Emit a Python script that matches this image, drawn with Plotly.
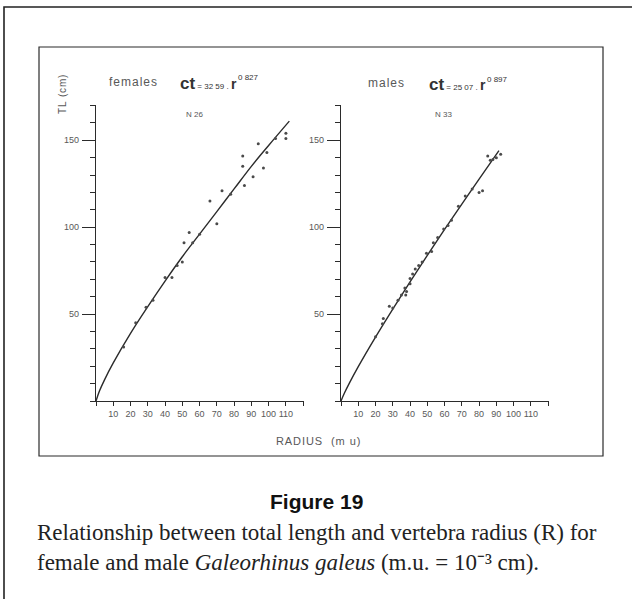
import plotly.graph_objects as go

# Vertebra radius (m.u.) and total length (cm), females
female_radius = [110, 110, 94, 99, 85, 85, 97, 91, 86, 73, 66, 70, 54, 51, 50, 44, 40,
                 29, 23, 33, 47, 60, 78, 104, 56, 16]
female_tl = [154, 151, 148, 143, 141, 135, 134, 129, 124, 121, 115, 102, 97, 91, 80, 71, 71,
             54, 45, 58, 78, 96, 119, 151, 91, 31]

# Vertebra radius (m.u.) and total length (cm), males
male_radius = [92.5, 90, 85, 86.5, 80, 82, 72, 68, 64, 59.5, 53.5, 49.5, 52.5, 43, 41.5, 40,
               40, 37, 38, 37.5, 30, 28, 24.5, 24, 45, 33, 56, 62, 76, 88, 47, 35, 20]
male_tl = [142, 140, 141, 138.5, 120, 121, 118, 112, 104, 99, 91, 85, 86, 76, 73, 70.5,
           67.5, 65, 63, 61, 53.5, 54.5, 47.5, 44.5, 78, 58, 94, 101, 122, 139, 80, 61, 37]

# Fitted growth curves
female_fit_r = [0, 2, 5, 10, 20, 30, 40, 50, 60, 70, 80, 90, 100, 112]
female_fit_tl = [0, 5.7, 12.3, 21.9, 38.9, 54.3, 69.0, 83.0, 96.0, 109.0, 122.0, 135.0, 147.0, 161.0]
male_fit_r = [0, 2, 5, 10, 20, 30, 40, 50, 60, 70, 80, 91.5]
male_fit_tl = [0, 4.6, 10.6, 19.8, 36.8, 52.9, 68.6, 83.8, 98.7, 113.3, 127.6, 144.0]

x_tick_vals = [10, 20, 30, 40, 50, 60, 70, 80, 90, 100, 110]
x_tick_text = ["10", "20", "30", "40", "50", "60", "70", "80", "90", "100", "110"]
y_tick_vals = [50, 100, 150]
y_tick_text = ["50", "100", "150"]

W, H = 632, 599
INK = "#2b2b2b"
GREY = "#585858"


def px(x):
    return x / W


def py(y):
    return 1 - y / H


fig = go.Figure()

fig.add_trace(go.Scatter(x=female_fit_r, y=female_fit_tl, mode="lines", line_shape="spline",
                         line=dict(color=INK, width=1.4), xaxis="x", yaxis="y", hoverinfo="skip"))
fig.add_trace(go.Scatter(x=female_radius, y=female_tl, mode="markers",
                         marker=dict(size=3, color="#4a4a4a"), xaxis="x", yaxis="y"))
fig.add_trace(go.Scatter(x=male_fit_r, y=male_fit_tl, mode="lines", line_shape="spline",
                         line=dict(color=INK, width=1.4), xaxis="x2", yaxis="y2", hoverinfo="skip"))
fig.add_trace(go.Scatter(x=male_radius, y=male_tl, mode="markers",
                         marker=dict(size=3, color="#4a4a4a"), xaxis="x2", yaxis="y2"))

tick_font = dict(family="Liberation Sans", size=9, color=GREY)


def x_axis(domain, anchor):
    return dict(domain=domain, range=[0, 120.5], anchor=anchor, showgrid=False, zeroline=False,
                showline=True, linecolor=INK, linewidth=1.2, ticks="outside", ticklen=4,
                tickcolor=INK, tickwidth=1, tickvals=x_tick_vals, ticktext=x_tick_text,
                tickfont=tick_font,
                minor=dict(ticks="outside", ticklen=4, dtick=10, tick0=0, tickcolor=INK,
                           tickwidth=1),
                fixedrange=True)


def y_axis(domain, anchor):
    return dict(domain=domain, range=[0, 170.3], anchor=anchor, showgrid=False, zeroline=False,
                showline=True, linecolor=INK, linewidth=1.2, ticks="outside", ticklen=13,
                tickcolor=INK, tickwidth=1, tickvals=y_tick_vals, ticktext=y_tick_text,
                tickfont=tick_font, ticklabelstandoff=1,
                minor=dict(ticks="outside", ticklen=5, dtick=10, tick0=0, tickcolor=INK,
                           tickwidth=1),
                fixedrange=True)


y_dom = [py(401), py(105)]
fig.update_layout(
    width=W, height=H, margin=dict(l=0, r=0, t=0, b=0),
    paper_bgcolor="white", plot_bgcolor="white", showlegend=False,
    xaxis=x_axis([px(96), px(304)], "y"),
    yaxis=y_axis(y_dom, "x"),
    xaxis2=x_axis([px(341), px(549)], "y2"),
    yaxis2=y_axis(y_dom, "x2"),
)

# Page frame and figure box
fig.add_shape(type="path", xref="paper", yref="paper",
              path=f"M {px(4)} {py(599)} L {px(4)} {py(7)} L {px(632)} {py(7)}",
              line=dict(color="#222", width=1.6))
fig.add_shape(type="rect", xref="paper", yref="paper",
              x0=px(39), x1=px(603), y0=py(456), y1=py(47),
              line=dict(color=INK, width=1.2))


def note(x, y, text, size=10, color=GREY, anchor="center", family="Liberation Sans", **kw):
    fig.add_annotation(x=px(x), y=py(y), xref="paper", yref="paper", text=text,
                       showarrow=False, xanchor=anchor, yanchor="middle",
                       font=dict(family=family, size=size, color=color), **kw)


hs = "\u200a"


def spaced(s):
    return hs.join(s)


note(62, 95, spaced("TL (cm)"), size=10, textangle=-90)
note(133, 82, spaced("females"), size=12)
note(386, 83, spaced("males"), size=12)


def formula(coef):
    return ("<b><span style='font-size:17px'>ct</span></b>"
            f"<span style='font-size:8px'> = {coef} . </span>"
            "<b><span style='font-size:14px'>r</span></b>")


note(178, 83, formula("32 59"), color="#333", anchor="left")
note(236, 77, "0 827", size=8, color="#333", anchor="left")
note(427, 85, formula("25 07"), color="#333", anchor="left")
note(485, 79, "0 897", size=8, color="#333", anchor="left")
note(194, 114, "N 26", size=8)
note(443, 114, "N 33", size=8)
note(318, 441, spaced("RADIUS  (m u)"), size=11)

note(316, 501, "<b>Figure 19</b>", size=21, color="#111", family="Liberation Sans")
note(35, 532, "Relationship between total length and vertebra radius (R) for",
     size=23, color="#222", anchor="left", family="Liberation Serif")
note(35, 562, "female and male <i>Galeorhinus galeus</i> (m.u. = 10\u207b\u00b3 cm).",
     size=23, color="#222", anchor="left", family="Liberation Serif")

fig.write_html("out.html")
